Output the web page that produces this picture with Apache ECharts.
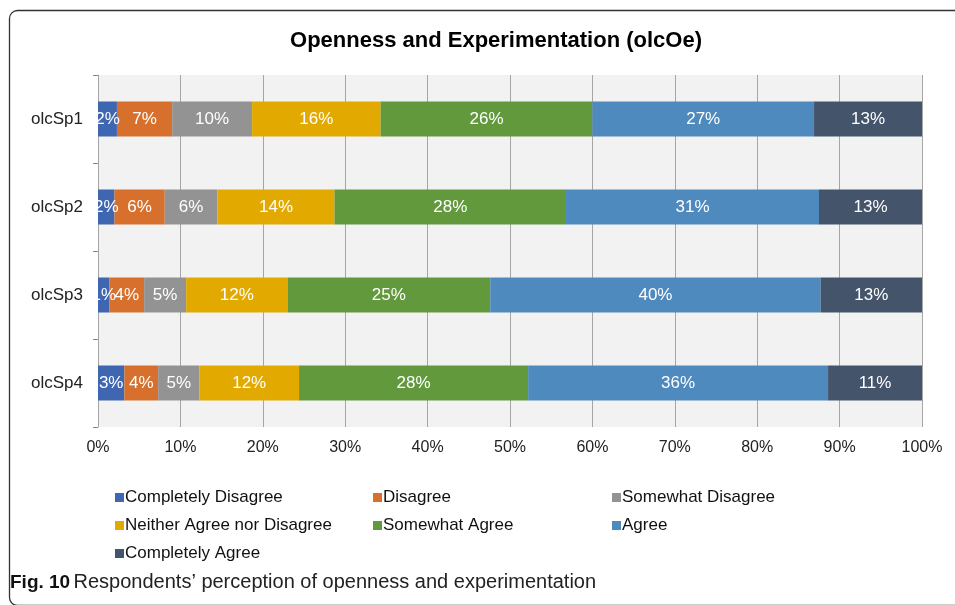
<!DOCTYPE html>
<html><head><meta charset="utf-8">
<script src="https://cdn.jsdelivr.net/npm/echarts@6/dist/echarts.min.js"></script>
<style>html,body{margin:0;padding:0;background:#fff}#c{width:955px;height:605px}</style>
</head><body><div id="c"></div>
<script>
const categories = ['olcSp1', 'olcSp2', 'olcSp3', 'olcSp4'];
const seriesNames = ['Completely Disagree', 'Disagree', 'Somewhat Disagree', 'Neither Agree nor Disagree', 'Somewhat Agree', 'Agree', 'Completely Agree'];
const completelyDisagree = [2.3, 2.0, 1.4, 3.2];
const disagree = [6.7, 6.1, 4.2, 4.1];
const somewhatDisagree = [9.7, 6.4, 5.1, 5.0];
const neither = [15.6, 14.2, 12.3, 12.1];
const somewhatAgree = [25.7, 28.1, 24.6, 27.8];
const agree = [26.9, 30.7, 40.1, 36.4];
const completelyAgree = [13.1, 12.5, 12.5, 11.4];
const xTicks = [0, 10, 20, 30, 40, 50, 60, 70, 80, 90, 100];
const colors = ['#3f67b1', '#d7702d', '#939393', '#e2aa00', '#62993c', '#4f8abe', '#44546a'];
const values = [completelyDisagree, disagree, somewhatDisagree, neither, somewhatAgree, agree, completelyAgree];

const FONT = 'Liberation Sans, Arial, sans-serif';
const chart = echarts.init(document.getElementById('c'));
const series = seriesNames.map((n, i) => ({
  name: n, type: 'bar', stack: 'all', barWidth: 35,
  data: values[i],
  itemStyle: { color: colors[i] },
  label: { show: true, position: 'inside', color: '#fff', fontSize: 17, fontFamily: FONT,
    formatter: p => Math.round(p.value) + '%' }
}));
const legendCommon = { orient: 'vertical', itemWidth: 9, itemHeight: 9, itemGap: 11, icon: 'rect',
  textStyle: { fontSize: 17, fontFamily: FONT, color: '#111', padding: [0, 0, 0, -4] }, top: 484 };
chart.setOption({
  animation: false,
  color: colors,
  title: { text: 'Openness and Experimentation (olcOe)', left: 491, top: 25, textAlign: 'center',
    textStyle: { fontSize: 22, fontWeight: 'bold', fontFamily: FONT, color: '#000' } },
  grid: { left: 98, right: 33, top: 75, height: 352, containLabel: false },
  xAxis: { type: 'value', min: 0, max: 100, interval: 10,
    axisLabel: { formatter: v => xTicks.includes(v) ? v + '%' : '', fontSize: 16, fontFamily: FONT, color: '#222', margin: 13 },
    axisLine: { show: false }, axisTick: { show: false },
    splitLine: { lineStyle: { color: '#a6a6a6', width: 1 } } },
  yAxis: { type: 'category', data: categories, inverse: true,
    axisLabel: { fontSize: 17, fontFamily: FONT, color: '#222', margin: 15 },
    axisLine: { show: true, lineStyle: { color: '#a6a6a6' } },
    axisTick: { show: true, length: 5, lineStyle: { color: '#888' } } },
  legend: [
    Object.assign({ left: 110, data: [seriesNames[0], seriesNames[3], seriesNames[6]] }, legendCommon),
    Object.assign({ left: 368, data: [seriesNames[1], seriesNames[4]] }, legendCommon),
    Object.assign({ left: 607, data: [seriesNames[2], seriesNames[5]] }, legendCommon)
  ],
  graphic: [
    { type: 'rect', left: 7, top: 8, shape: { width: 965, height: 595, r: 8 }, silent: true,
      style: { fill: null, stroke: '#333', lineWidth: 1.3 }, z: -10 },
    { type: 'rect', left: 98, top: 75, shape: { width: 824, height: 352 }, silent: true,
      style: { fill: '#f2f2f2' }, z: -5 },
    { type: 'text', left: 10, top: 572, style: {
      text: '{b|Fig. 10} {n|Respondents\u2019 perception of openness and experimentation}',
      rich: { b: { fontWeight: 'bold', fontSize: 19, fontFamily: FONT, fill: '#111', verticalAlign: 'bottom' },
              n: { fontSize: 20, fontFamily: FONT, fill: '#222', verticalAlign: 'bottom' } } } }
  ],
  series: series
});
</script></body></html>
